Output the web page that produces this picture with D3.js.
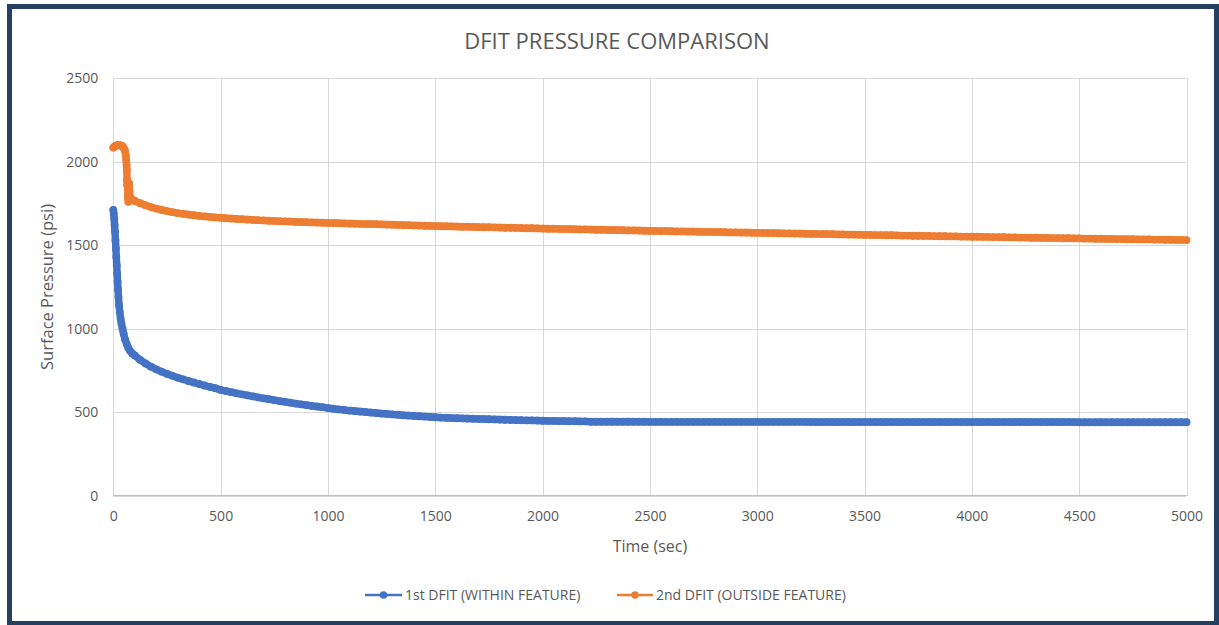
<!DOCTYPE html>
<html>
<head>
<meta charset="utf-8">
<script src="https://cdn.jsdelivr.net/npm/d3@7"></script>
<style>
  body { margin: 0; background: #ffffff; }
  svg { display: block; }
</style>
</head>
<body>
<svg id="chart" width="1219" height="625"></svg>
<script>
// ---- chart text and ticks ----
const chartTitle = "DFIT PRESSURE COMPARISON";
const xAxisTitle = "Time (sec)";
const yAxisTitle = "Surface Pressure (psi)";
const xTicks = [0, 500, 1000, 1500, 2000, 2500, 3000, 3500, 4000, 4500, 5000];
const yTicks = [0, 500, 1000, 1500, 2000, 2500];
const seriesNames = ["1st DFIT (WITHIN FEATURE)", "2nd DFIT (OUTSIDE FEATURE)"];
const seriesColors = ["#4472C4", "#ED7D31"];

// ---- 1st DFIT: early shut-in readings (s, psi) ----
const firstEarlyTime = [0, 2, 4, 6, 8, 10, 12, 14, 16, 18, 20, 22, 24, 27, 30, 34, 38, 43, 48, 55, 62, 70, 78, 88];
const firstEarlyPsi  = [1712, 1690, 1660, 1620, 1580, 1530, 1480, 1430, 1380, 1330, 1280, 1235, 1190, 1140, 1100, 1060, 1030, 1000, 970, 935, 910, 885, 868, 852];

// ---- 2nd DFIT: early shut-in readings (s, psi) ----
const secondEarlyTime = [0, 5, 10, 15, 20, 25, 30, 35, 40, 45, 50, 55, 58, 60, 62, 63, 64, 65, 66, 67, 68, 69, 70, 72, 74, 76, 78, 80, 85, 90, 95];
const secondEarlyPsi  = [2085, 2090, 2095, 2098, 2100, 2100, 2100, 2098, 2095, 2090, 2080, 2065, 2040, 2010, 1980, 1950, 1890, 1860, 1880, 1850, 1800, 1780, 1760, 1840, 1870, 1820, 1790, 1780, 1775, 1772, 1768];

// ---- logged readings every 25 s from 100 s to 5000 s ----
const loggedStart = 100;
const loggedStep = 25;
const firstLoggedPsi = [
  840, 814, 792, 773, 757, 743, 730, 718, 707, 697, 687, 678, 669, 660, 652, 644,
  634, 627, 620, 613, 607, 601, 595, 589, 583, 578, 572, 567, 562, 557, 552, 547, 543, 538, 534, 530,
  525, 521, 517, 514, 510, 507, 504, 501, 498, 495, 492, 490, 487, 485, 482, 480, 478, 476, 474, 472,
  470, 468, 467, 465, 464, 463, 462, 461, 460, 459, 458, 457, 456, 455, 454, 453, 452, 451, 451, 450,
  449, 448, 448, 447, 447, 446, 446, 445, 445, 443, 443, 443, 443, 443, 443, 443, 443, 443, 443, 443,
  442, 442, 442, 442, 442, 442, 442, 442, 442, 442, 442, 442, 442, 442, 442, 442, 442, 442, 442, 442,
  442, 442, 442, 442, 442, 442, 442, 442, 442, 442, 441, 441, 441, 441, 441, 441, 441, 441, 441, 441,
  441, 441, 441, 441, 441, 441, 441, 441, 441, 441, 441, 441, 441, 441, 441, 441, 441, 441, 441, 441,
  441, 441, 441, 441, 441, 441, 441, 441, 441, 441, 441, 441, 441, 441, 441, 441, 441, 441, 441, 441,
  440, 440, 440, 440, 440, 440, 440, 440, 440, 440, 440, 440, 440, 440, 440, 440, 440, 440, 440, 440,
  440
];
const secondLoggedPsi = [
  1765, 1752, 1740, 1729, 1720, 1712, 1705, 1699, 1693, 1688, 1684, 1680, 1676, 1673, 1670, 1667,
  1665, 1662, 1660, 1658, 1656, 1654, 1652, 1650, 1649, 1647, 1646, 1644, 1643, 1642, 1640, 1639, 1638, 1637, 1636, 1635,
  1634, 1633, 1632, 1631, 1630, 1629, 1628, 1627, 1627, 1626, 1625, 1624, 1623, 1622, 1621, 1620, 1619, 1618, 1617, 1616,
  1615, 1614, 1614, 1613, 1612, 1611, 1611, 1610, 1609, 1608, 1608, 1607, 1606, 1605, 1605, 1604, 1603, 1602, 1602, 1601,
  1600, 1599, 1599, 1598, 1597, 1597, 1596, 1595, 1595, 1594, 1593, 1593, 1592, 1591, 1591, 1590, 1589, 1589, 1588, 1587,
  1586, 1586, 1585, 1585, 1584, 1583, 1583, 1582, 1582, 1581, 1580, 1580, 1579, 1579, 1578, 1577, 1577, 1576, 1576, 1575,
  1574, 1574, 1573, 1573, 1572, 1571, 1571, 1570, 1570, 1569, 1568, 1568, 1567, 1567, 1566, 1565, 1565, 1564, 1564, 1563,
  1562, 1562, 1561, 1561, 1560, 1560, 1559, 1558, 1558, 1557, 1557, 1556, 1556, 1555, 1554, 1554, 1553, 1553, 1552, 1552,
  1551, 1551, 1550, 1550, 1549, 1549, 1548, 1547, 1547, 1546, 1546, 1545, 1545, 1544, 1544, 1543, 1543, 1542, 1542, 1541,
  1541, 1540, 1540, 1539, 1539, 1538, 1538, 1537, 1537, 1536, 1536, 1535, 1535, 1535, 1534, 1534, 1533, 1533, 1532, 1532,
  1531
];

// combine early and logged readings into [time, psi] pairs
function buildSeries(earlyTime, earlyPsi, loggedPsi) {
  const pts = earlyTime.map((t, i) => ({ t, p: earlyPsi[i] }));
  loggedPsi.forEach((p, i) => pts.push({ t: loggedStart + i * loggedStep, p }));
  return pts;
}
const series = [
  buildSeries(firstEarlyTime, firstEarlyPsi, firstLoggedPsi),
  buildSeries(secondEarlyTime, secondEarlyPsi, secondLoggedPsi)
];

// ---- layout ----
const plot = { left: 113.3, right: 1186.5, top: 78.3, bottom: 495.7 };
const textColor = "#595959";
const gridColor = "#D9D9D9";
const font = "'Open Sans', 'Liberation Sans', sans-serif";
const markerR = 3.9;

const svg = d3.select("#chart");

const x = d3.scaleLinear().domain([0, 5000]).range([plot.left, plot.right]);
const y = d3.scaleLinear().domain([0, 2500]).range([plot.bottom, plot.top]);

// frame around the chart
svg.append("rect")
  .attr("x", 9.5).attr("y", 6.5)
  .attr("width", 1207).attr("height", 617)
  .attr("fill", "#ffffff")
  .attr("stroke", "#243F60")
  .attr("stroke-width", 5);

// title
svg.append("text")
  .attr("x", 617).attr("y", 48.5)
  .attr("text-anchor", "middle")
  .attr("font-family", font)
  .attr("font-size", 22)
  .attr("fill", textColor)
  .text(chartTitle);

// gridlines
const gridY = svg.append("g")
  .attr("transform", `translate(${plot.left},0)`)
  .call(d3.axisLeft(y).tickValues(yTicks).tickSize(-(plot.right - plot.left)).tickFormat(""));
const gridX = svg.append("g")
  .attr("transform", `translate(0,${plot.bottom})`)
  .call(d3.axisBottom(x).tickValues(xTicks).tickSize(-(plot.bottom - plot.top)).tickFormat(""));
[gridY, gridX].forEach(g => {
  g.select(".domain").remove();
  g.selectAll(".tick line").attr("stroke", gridColor).attr("stroke-width", 1).attr("shape-rendering", "crispEdges");
});
// x-axis baseline
svg.append("line")
  .attr("x1", plot.left).attr("x2", plot.right)
  .attr("y1", y(0)).attr("y2", y(0))
  .attr("stroke", "#BFBFBF").attr("stroke-width", 1)
  .attr("shape-rendering", "crispEdges");

// tick labels
const yAxis = svg.append("g")
  .attr("transform", `translate(${plot.left},0)`)
  .call(d3.axisLeft(y).tickValues(yTicks).tickSize(0).tickPadding(15).tickFormat(d3.format("d")));
const xAxis = svg.append("g")
  .attr("transform", `translate(0,${plot.bottom})`)
  .call(d3.axisBottom(x).tickValues(xTicks).tickSize(0).tickPadding(15).tickFormat(d3.format("d")));
[yAxis, xAxis].forEach(g => {
  g.select(".domain").remove();
  g.selectAll("text")
    .attr("font-family", font)
    .attr("font-size", 14)
    .attr("fill", textColor);
});

// axis titles
svg.append("text")
  .attr("x", (plot.left + plot.right) / 2).attr("y", 552)
  .attr("text-anchor", "middle")
  .attr("font-family", font).attr("font-size", 16)
  .attr("fill", textColor)
  .text(xAxisTitle);
svg.append("text")
  .attr("transform", `translate(53,${(plot.top + plot.bottom) / 2}) rotate(-90)`)
  .attr("text-anchor", "middle")
  .attr("font-family", font).attr("font-size", 16.5)
  .attr("fill", textColor)
  .text(yAxisTitle);

// series: densely logged readings drawn as a line with overlapping circle markers
const line = d3.line().x(d => x(d.t)).y(d => y(d.p));
series.forEach((pts, i) => {
  const g = svg.append("g");
  g.append("path")
    .datum(pts)
    .attr("d", line)
    .attr("fill", "none")
    .attr("stroke", seriesColors[i])
    .attr("stroke-width", markerR * 2 - 0.4)
    .attr("stroke-linejoin", "round")
    .attr("stroke-linecap", "round");
  g.selectAll("circle")
    .data(pts)
    .join("circle")
    .attr("cx", d => x(d.t))
    .attr("cy", d => y(d.p))
    .attr("r", markerR)
    .attr("fill", seriesColors[i]);
});

// legend
const legendY = 595;
const legendItems = [
  { x0: 365, x1: 402, tx: 405 },
  { x0: 617, x1: 653, tx: 656 }
];
legendItems.forEach((it, i) => {
  const g = svg.append("g");
  g.append("line")
    .attr("x1", it.x0).attr("x2", it.x1)
    .attr("y1", legendY).attr("y2", legendY)
    .attr("stroke", seriesColors[i]).attr("stroke-width", 2.5);
  g.append("circle")
    .attr("cx", (it.x0 + it.x1) / 2).attr("cy", legendY)
    .attr("r", 3.8)
    .attr("fill", seriesColors[i]);
  g.append("text")
    .attr("x", it.tx).attr("y", legendY)
    .attr("dy", "0.35em")
    .attr("font-family", font).attr("font-size", 14)
    .attr("fill", textColor)
    .text(seriesNames[i]);
});
</script>
</body>
</html>
